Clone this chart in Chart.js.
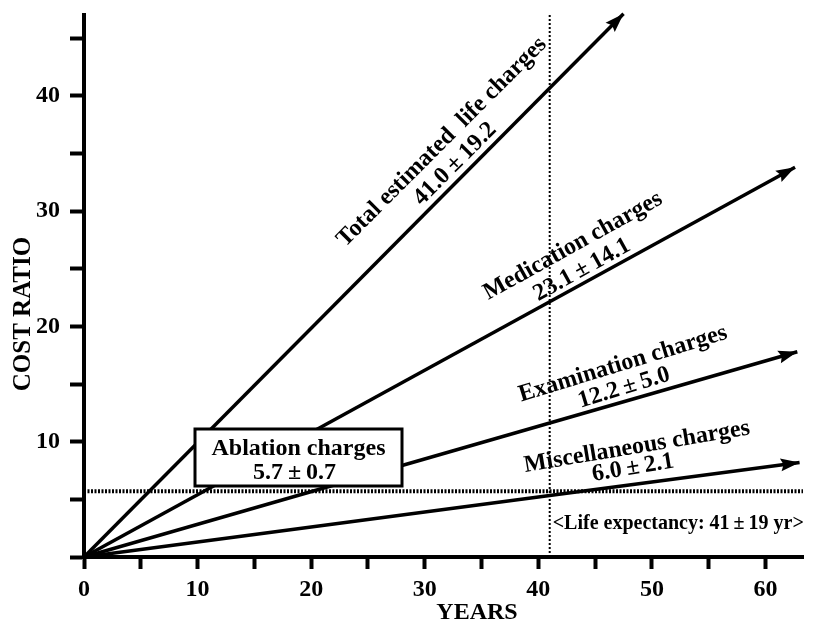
<!DOCTYPE html>
<html>
<head>
<meta charset="utf-8">
<script src="https://cdn.jsdelivr.net/npm/chart.js@4.4.1/dist/chart.umd.min.js"></script>
<style>
  html, body { margin: 0; padding: 0; background: #fff; }
  #wrap { position: relative; width: 823px; height: 623px; }
</style>
</head>
<body>
<div id="wrap"><canvas id="costChart" width="823" height="623"></canvas></div>
<script>
// cost ratio vs years (life charges after ablation)

const PM = '\u2009\u00B1\u2009';
const seriesNames = ['Total estimated  life charges', 'Medication charges', 'Examination charges', 'Miscellaneous charges'];
const seriesMeans = ['41.0' + PM + '19.2', '23.1' + PM + '14.1', '12.2' + PM + '5.0', '6.0' + PM + '2.1'];
const startYears = [0, 0, 0, 0];
const startRatios = [0, 0, 0, 0];
const endYears = [47.5, 62.6, 62.8, 63.0];
const endRatios = [47.1, 33.8, 17.8, 8.2];

const ablationRatio = 5.7;
const ablationLabel = ['Ablation charges', '5.7' + PM + '0.7'];
const lifeExpectancy = 41;
const lifeLabel = '<Life expectancy: 41' + PM + '19 yr>';

const xTickLabels = [0, 10, 20, 30, 40, 50, 60];
const yTickLabels = [10, 20, 30, 40];

const FONT = "'Liberation Serif', 'DejaVu Serif', serif";
const INK = '#000';

// text placement (pixel centres, rotation in degrees)
const lineLabelLayout = [
  { a: [442, 142], b: [455, 164], rot: -45 },
  { a: [573, 246], b: [582, 270], rot: -29 },
  { a: [623, 364], b: [624, 388], rot: -17 },
  { a: [637, 447], b: [633, 468], rot: -9.5 },
];

const arrowPlugin = {
  id: 'arrows',
  afterDatasetsDraw(chart) {
    const ctx = chart.ctx;
    chart.data.datasets.forEach((ds, i) => {
      if (!ds.arrow) return;
      const pts = chart.getDatasetMeta(i).data;
      const p0 = pts[pts.length - 2];
      const p1 = pts[pts.length - 1];
      const ang = Math.atan2(p1.y - p0.y, p1.x - p0.x);
      const len = 19, half = 6.5;
      ctx.save();
      ctx.translate(p1.x, p1.y);
      ctx.rotate(ang);
      ctx.beginPath();
      ctx.moveTo(0, 0);
      ctx.lineTo(-len, -half);
      ctx.lineTo(-len * 0.85, 0);
      ctx.lineTo(-len, half);
      ctx.closePath();
      ctx.fillStyle = INK;
      ctx.fill();
      ctx.restore();
    });
  },
};

const textPlugin = {
  id: 'texts',
  afterDraw(chart) {
    const ctx = chart.ctx;
    const { x } = chart.scales;
    ctx.save();
    ctx.fillStyle = INK;
    ctx.textAlign = 'center';
    ctx.textBaseline = 'middle';

    // labels along the lines
    ctx.font = `bold 24px ${FONT}`;
    lineLabelLayout.forEach((l, i) => {
      [[l.a, seriesNames[i]], [l.b, seriesMeans[i]]].forEach(([pos, txt]) => {
        ctx.save();
        ctx.translate(pos[0], pos[1]);
        ctx.rotate(l.rot * Math.PI / 180);
        ctx.fillText(txt, 0, 0);
        ctx.restore();
      });
    });

    // ablation box
    const bx = 195, by = 429, bw = 207, bh = 57;
    ctx.fillStyle = '#fff';
    ctx.fillRect(bx, by, bw, bh);
    ctx.lineWidth = 3;
    ctx.strokeStyle = INK;
    ctx.strokeRect(bx, by, bw, bh);
    ctx.fillStyle = INK;
    ctx.font = `bold 24px ${FONT}`;
    ctx.fillText(ablationLabel[0], bx + bw / 2, by + 20);
    ctx.fillText(ablationLabel[1], bx + bw / 2 - 4, by + 44);

    // life expectancy note
    ctx.font = `bold 20px ${FONT}`;
    ctx.textAlign = 'left';
    ctx.fillText(lifeLabel, x.getPixelForValue(lifeExpectancy) + 3, 524);

    // axis titles
    ctx.font = `bold 24px ${FONT}`;
    ctx.textAlign = 'center';
    ctx.fillText('YEARS', 477, 613);
    ctx.font = `bold 25px ${FONT}`;
    ctx.save();
    ctx.translate(24, 314);
    ctx.rotate(-Math.PI / 2);
    ctx.fillText('COST RATIO', 0, 0);
    ctx.restore();
    ctx.restore();
  },
};

function buildDatasets() {
  const sets = seriesNames.map((name, i) => ({
    label: name,
    data: [
      { x: startYears[i], y: startRatios[i] },
      { x: endYears[i], y: endRatios[i] },
    ],
    borderColor: INK,
    borderWidth: 3.5,
    pointRadius: 0,
    clip: false,
    arrow: true,
  }));
  sets.push({
    label: 'Ablation',
    data: [{ x: 0, y: ablationRatio }, { x: 63.3, y: ablationRatio }],
    borderColor: INK,
    borderWidth: 4,
    borderDash: [2, 1.5],
    pointRadius: 0,
    clip: false,
  });
  sets.push({
    label: 'Life expectancy',
    data: [{ x: lifeExpectancy, y: 0 }, { x: lifeExpectancy, y: 47.1 }],
    borderColor: INK,
    borderWidth: 2,
    borderDash: [2, 2],
    pointRadius: 0,
    clip: false,
  });
  return sets;
}

function initChart() {
  const ctx = document.getElementById('costChart');
  new Chart(ctx, {
    type: 'line',
    data: { datasets: buildDatasets() },
    options: {
      responsive: false,
      animation: false,
      layout: { padding: { top: 15, right: 20, left: 0, bottom: 0 } },
      plugins: {
        legend: { display: false },
        tooltip: { enabled: false },
      },
      scales: {
        x: {
          type: 'linear',
          min: 0,
          max: 63.3,
          afterFit: (s) => { s.height = 66; s.paddingLeft = 0; s.paddingRight = 0; },
          border: { color: INK, width: 4 },
          grid: { drawOnChartArea: false, color: INK, tickLength: 12, tickWidth: 4 },
          ticks: {
            stepSize: 5,
            includeBounds: false,
            color: INK,
            padding: 6,
            maxRotation: 0,
            autoSkip: false,
            font: { family: FONT, size: 24, weight: 'bold' },
            callback: (v) => (xTickLabels.includes(v) ? String(v) : ''),
          },
        },
        y: {
          type: 'linear',
          min: 0,
          max: 47,
          afterFit: (s) => { s.width = 84; s.paddingTop = 0; s.paddingBottom = 0; },
          border: { color: INK, width: 4 },
          grid: { drawOnChartArea: false, color: INK, tickLength: 14, tickWidth: 4 },
          ticks: {
            stepSize: 5,
            includeBounds: false,
            color: INK,
            padding: 10,
            autoSkip: false,
            font: { family: FONT, size: 24, weight: 'bold' },
            callback: (v) => (yTickLabels.includes(v) ? String(v) : ''),
          },
        },
      },
    },
    plugins: [arrowPlugin, textPlugin],
  });
}

document.addEventListener('DOMContentLoaded', initChart);
</script>
</body>
</html>
